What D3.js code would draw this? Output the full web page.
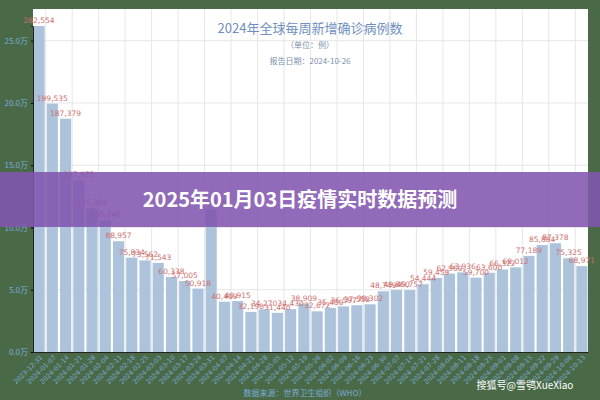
<!DOCTYPE html>
<html><head><meta charset="utf-8">
<script src="https://cdn.jsdelivr.net/npm/d3@7"></script>
<style>body{margin:0;background:#4a6a47}svg{display:block}</style>
</head><body><svg id="c" width="600" height="400"></svg>
<script>
const dates=["2023-12-31","2024-01-07","2024-01-14","2024-01-21","2024-01-28","2024-02-04","2024-02-11","2024-02-18","2024-02-25","2024-03-03","2024-03-10","2024-03-17","2024-03-24","2024-03-31","2024-04-07","2024-04-14","2024-04-21","2024-04-28","2024-05-05","2024-05-12","2024-05-19","2024-05-26","2024-06-02","2024-06-09","2024-06-16","2024-06-23","2024-06-30","2024-07-07","2024-07-14","2024-07-21","2024-07-28","2024-08-04","2024-08-11","2024-08-18","2024-08-25","2024-09-01","2024-09-08","2024-09-15","2024-09-22","2024-09-29","2024-10-06","2024-10-13"];
const cases=[282554,199535,187379,137975,115304,105746,88957,75834,73562,71543,60338,57005,50918,114580,40409,40915,32190,34270,31440,34430,38909,32672,35400,36597,37558,38302,48749,49860,49757,54444,59459,62960,63936,59700,63600,66322,68012,77189,85884,87378,75325,68971];
const yTicks=[0,50000,100000,150000,200000,250000];
const svg=d3.select("#c");
const L=33,R=588,T=9,B=352;
svg.append("rect").attr("x",L).attr("y",T).attr("width",R-L).attr("height",B-T).attr("fill","#fff");
const x=d3.scaleBand().domain(dates).range([L,R]).paddingInner(0.16).paddingOuter(0.04);
const y=d3.scaleLinear().domain([0,261800]).range([B,26]).clamp(true);
const g=svg.append("g");
dates.forEach((d,i)=>{if(i%2==0){const xx=x(d)+x.bandwidth()+x.step()*0.08;g.append("line").attr("x1",xx).attr("x2",xx).attr("y1",T).attr("y2",B).attr("stroke","#e6e6e6");}});
yTicks.forEach(t=>g.append("line").attr("x1",L).attr("x2",R).attr("y1",y(t)).attr("y2",y(t)).attr("stroke","#e6e6e6"));
g.selectAll(".b").data(cases).join("rect").attr("x",(d,i)=>x(dates[i])).attr("y",d=>y(d)).attr("width",x.bandwidth()).attr("height",d=>B-y(d)).attr("fill","#adc3dc");
g.selectAll(".l").data(cases).join("text").attr("x",(d,i)=>x(dates[i])+x.bandwidth()/2).attr("y",d=>y(d)-3).attr("text-anchor","middle").attr("font-size",7.5).attr("font-family","DejaVu Sans").attr("fill","#cd7070").text(d=>d3.format(",")(d));
const ya=svg.append("g").attr("transform",`translate(${L},0)`).call(d3.axisLeft(y).tickValues(yTicks).tickSize(2).tickFormat(d=>(d/10000).toFixed(1)+"万"));
ya.select(".domain").attr("stroke","#222");
ya.selectAll("text").attr("fill","#7aaad8").attr("font-size",8).attr("font-family","Noto Sans CJK SC");
const xa=svg.append("g").attr("transform",`translate(0,${B})`).call(d3.axisBottom(x).tickSize(0));
xa.select(".domain").attr("stroke","#222");
xa.selectAll("text").attr("fill","#7aaad8").attr("font-size",6.5).attr("font-family","DejaVu Sans").attr("text-anchor","end").attr("transform","rotate(-45)").attr("dx","-0.2em").attr("dy","0.6em");
svg.append("text").attr("x",310).attr("y",33).attr("text-anchor","middle").attr("font-size",13).attr("fill","#6e8fc0").attr("font-family","Noto Sans CJK SC").text("2024年全球每周新增确诊病例数");
svg.append("text").attr("x",310).attr("y",48).attr("text-anchor","middle").attr("font-size",8).attr("fill","#7a8fb0").attr("font-family","Noto Sans CJK SC").text("（单位：例）");
svg.append("text").attr("x",310).attr("y",64).attr("text-anchor","middle").attr("font-size",8).attr("fill","#7a8fb0").attr("font-family","Noto Sans CJK SC").text("报告日期：2024-10-26");
svg.append("text").attr("x",305).attr("y",396).attr("text-anchor","middle").attr("font-size",8).attr("fill","#7aaad8").attr("font-family","Noto Sans CJK SC").text("数据来源：世界卫生组织（WHO）");
svg.append("rect").attr("x",0).attr("y",172).attr("width",600).attr("height",55).attr("fill","rgba(130,85,175,0.88)");
svg.append("text").attr("x",300).attr("y",207).attr("text-anchor","middle").attr("font-size",20).attr("font-weight","bold").attr("fill","#fff").attr("font-family","Noto Sans CJK SC").text("2025年01月03日疫情实时数据预测");
svg.append("text").attr("x",525).attr("y",389).attr("text-anchor","middle").attr("font-size",10).attr("fill","#fff").attr("font-family","Noto Sans CJK SC").text("搜狐号@雪鸮XueXiao");
</script></body></html>
